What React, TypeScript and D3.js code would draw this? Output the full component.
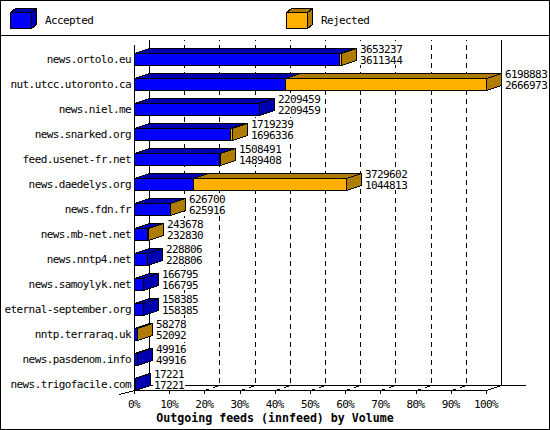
import React, { useEffect } from 'react';
import * as d3 from 'd3';

// Feed data, top to bottom
const hosts = [
  'news.ortolo.eu',
  'nut.utcc.utoronto.ca',
  'news.niel.me',
  'news.snarked.org',
  'feed.usenet-fr.net',
  'news.daedelys.org',
  'news.fdn.fr',
  'news.mb-net.net',
  'news.nntp4.net',
  'news.samoylyk.net',
  'eternal-september.org',
  'nntp.terraraq.uk',
  'news.pasdenom.info',
  'news.trigofacile.com',
];
const totals = [3653237, 6198883, 2209459, 1719239, 1508491, 3729602, 626700, 243678, 228806, 166795, 158385, 58278, 49916, 17221];
const accepted = [3611344, 2666973, 2209459, 1696336, 1489408, 1044813, 625916, 232830, 228806, 166795, 158385, 52092, 49916, 17221];
const percentTicks = [0, 10, 20, 30, 40, 50, 60, 70, 80, 90, 100];
const legendLabels = ['Accepted', 'Rejected'];
const title = 'Outgoing feeds (innfeed) by Volume';

// Layout
const W = 550;
const H = 430;
const depthX = 15; // 3D offset of the back plane
const depthY = 5;
const frontLeft = 134;
const frontRight = 486;
const floorY = 390;
const backTop = 40;
const barH = 12;
const colors = {
  accepted: { front: '#0000ff', dark: '#0000b0' },
  rejected: { front: '#ffb000', dark: '#b07c00' },
};
const mono = '"DejaVu Sans Mono", monospace';
// 11px glyphs squeezed to a 6px cell, like the small bitmap font
const small = { fontFamily: mono, fontSize: 11, letterSpacing: -0.6 };

const r = (v: number) => Math.round(v) + 0.5;

type BoxProps = {
  x1: number; x2: number; y: number; h: number; dx: number; dy: number;
  front: string; dark: string; side: boolean;
};

// Front face, top face and (optional) right face of a 3D box
const Box: React.FC<BoxProps> = ({ x1, x2, y, h, dx, dy, front, dark, side }) => {
  const a = r(x1);
  const b = r(x2);
  const t = r(y);
  const bt = r(y + h);
  return (
    <g stroke="#000" strokeWidth={1} shapeRendering="crispEdges">
      <polygon points={`${a},${t} ${a + dx},${t - dy} ${b + dx},${t - dy} ${b},${t}`} fill={dark} />
      {side && (
        <polygon points={`${b},${t} ${b + dx},${t - dy} ${b + dx},${bt - dy} ${b},${bt}`} fill={dark} />
      )}
      <rect x={a} y={t} width={Math.max(b - a, 0)} height={bt - t} fill={front} />
    </g>
  );
};

const App: React.FC = () => {
  useEffect(() => {
    document.body.style.margin = '0';
  }, []);

  const maxTotal = d3.max(totals) ?? 1;
  const x = d3.scaleLinear().domain([0, maxTotal]).range([frontLeft, frontRight]);
  const xPct = d3.scaleLinear().domain([0, 100]).range([frontLeft, frontRight]);
  const y = d3.scaleBand<string>()
    .domain(hosts)
    .range([53, 53 + hosts.length * 25])
    .padding(0);

  return (
    <svg width={W} height={H} style={{ position: 'absolute', left: 0, top: 0, background: '#fff' }}>
      <rect x={0.5} y={0.5} width={W - 1} height={H - 1} fill="#fff" stroke="#000" shapeRendering="crispEdges" />

      {/* Legend */}
      <line x1={0} x2={W} y1={35.5} y2={35.5} stroke="#000" shapeRendering="crispEdges" />
      {legendLabels.map((label, i) => {
        const c = i === 0 ? colors.accepted : colors.rejected;
        const lx = i === 0 ? 10 : 286;
        return (
          <g key={label}>
            <Box x1={lx} x2={lx + 21} y={12} h={16} dx={5} dy={4} front={c.front} dark={c.dark} side />
            <text x={lx + 35} y={24} {...small} fill="#000">{label}</text>
          </g>
        );
      })}

      {/* Grid: dashed lines from the front ticks up the back plane */}
      {percentTicks.slice(1, -1).map((p) => {
        const fx = Math.round(xPct(p)) + 0.5;
        return (
          <path
            key={p}
            d={`M${fx},${floorY + 0.5} L${fx + depthX},${floorY - depthY + 0.5} L${fx + depthX},${backTop}`}
            fill="none"
            stroke="#000"
            strokeDasharray="5,4"
            shapeRendering="crispEdges"
          />
        );
      })}

      {/* Axes */}
      <g stroke="#000" fill="none" shapeRendering="crispEdges">
        <line x1={r(frontLeft + depthX)} x2={r(frontLeft + depthX)} y1={backTop} y2={floorY - depthY} />
        <line x1={r(frontRight + depthX)} x2={r(frontRight + depthX)} y1={backTop} y2={floorY - depthY} />
        <line x1={r(frontLeft + depthX)} x2={526} y1={floorY - depthY + 0.5} y2={floorY - depthY + 0.5} />
        <line x1={r(frontLeft)} x2={r(frontLeft)} y1={backTop + depthY} y2={floorY + 4} />
        <line x1={r(frontLeft)} x2={r(frontRight)} y1={floorY + 0.5} y2={floorY + 0.5} />
        <line x1={r(frontRight)} y1={floorY + 0.5} x2={r(frontRight) + depthX} y2={floorY - depthY + 0.5} />
        <line x1={r(frontLeft) - 15} y1={floorY + 4.5} x2={r(frontLeft)} y2={floorY + 0.5} />
        {percentTicks.map((p) => (
          <line key={p} x1={r(xPct(p))} x2={r(xPct(p))} y1={floorY} y2={floorY + 4} />
        ))}
      </g>

      {/* Bars */}
      {hosts.map((h, i) => {
        const top = y(h) ?? 0;
        const xa = x(accepted[i]);
        const xt = x(totals[i]);
        const hasRejected = totals[i] > accepted[i];
        return (
          <g key={h}>
            <Box x1={frontLeft} x2={xa} y={top} h={barH} dx={depthX} dy={depthY}
              front={colors.accepted.front} dark={colors.accepted.dark} side={!hasRejected} />
            {hasRejected && (
              <Box x1={xa} x2={xt} y={top} h={barH} dx={depthX} dy={depthY}
                front={colors.rejected.front} dark={colors.rejected.dark} side />
            )}
          </g>
        );
      })}

      {/* Host labels */}
      {hosts.map((h) => (
        <text key={h} x={131} y={(y(h) ?? 0) + 10} textAnchor="end" {...small} fill="#000">
          {h}
        </text>
      ))}

      {/* Value labels: total, then accepted */}
      {hosts.map((h, i) => {
        const tx = Math.round(x(totals[i])) + depthX + 4;
        const bt = (y(h) ?? 0) - depthY;
        const lines = [String(totals[i]), String(accepted[i])];
        return (
          <g key={h}>
            {lines.map((s, j) => (
              <g key={j}>
                <rect x={tx - 1} y={bt - 5 + j * 11} width={s.length * 6 + 2} height={11} fill="#fff" />
                <text x={tx} y={bt + 4.5 + j * 11} {...small} fill="#000">{s}</text>
              </g>
            ))}
          </g>
        );
      })}

      {/* Tick labels and title */}
      {percentTicks.map((p) => (
        <text key={p} x={xPct(p)} y={407.5} textAnchor="middle" {...small} fill="#000">
          {`${p}%`}
        </text>
      ))}
      <text x={275} y={422} textAnchor="middle" fontFamily={mono} fontWeight="bold" fontSize={11.6} fill="#000">
        {title}
      </text>
    </svg>
  );
};

export default App;
